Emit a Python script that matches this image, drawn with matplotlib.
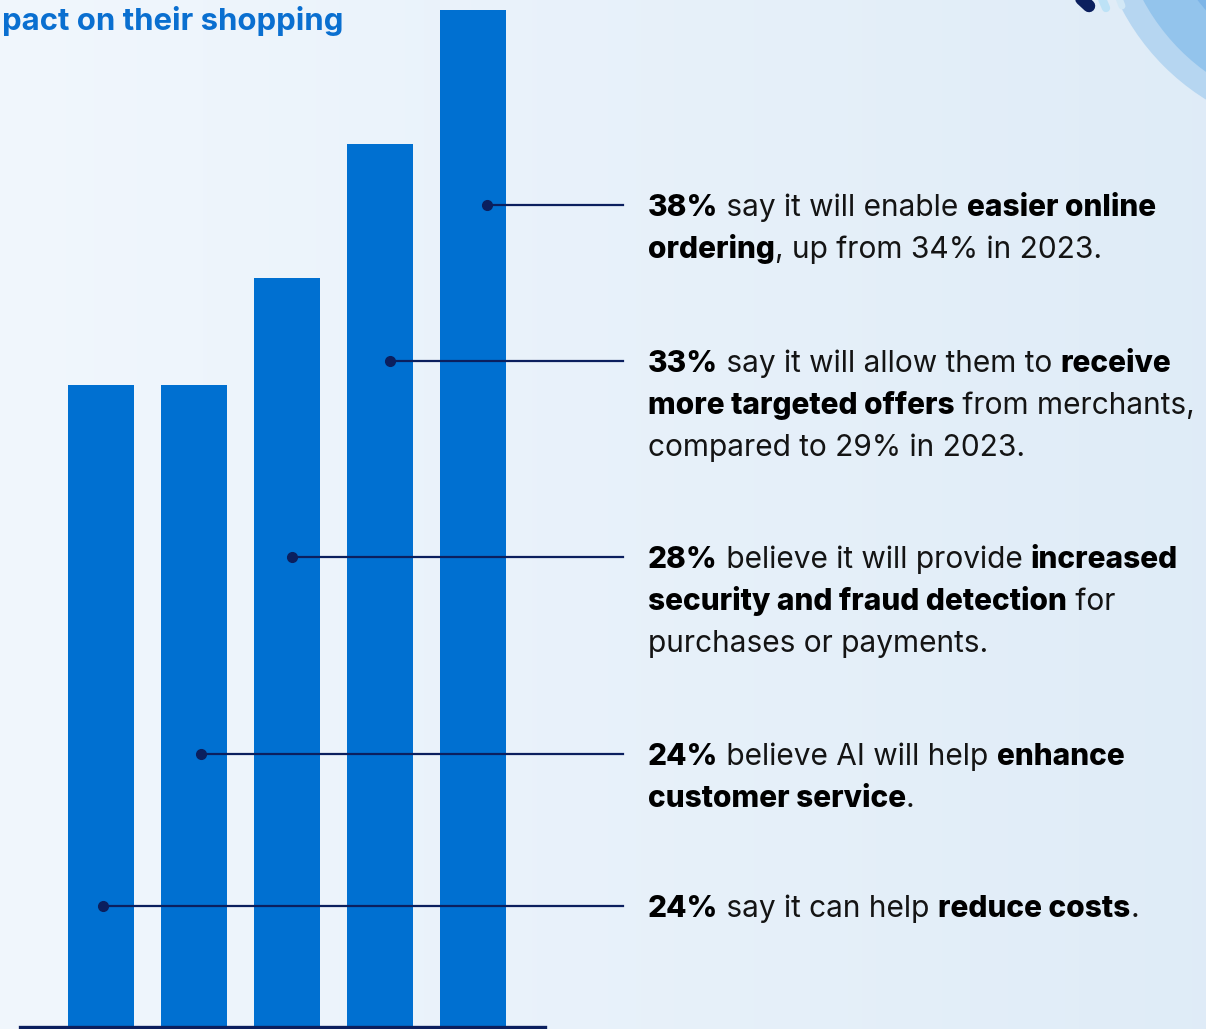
import numpy as np
import matplotlib.pyplot as plt
from matplotlib.patches import Circle
from matplotlib.transforms import IdentityTransform

# share of shoppers naming each AI benefit (%)
benefits = ['Reduce costs', 'Enhance customer service', 'Security and fraud detection',
            'Targeted offers', 'Easier online ordering']
shares = [24, 24, 28, 33, 38]

# callout copy, one block per bar (top block belongs to the tallest bar)
callouts = [
    [[('24%', True), (' say it can help ', False), ('reduce costs', True), ('.', False)]],
    [[('24%', True), (' believe AI will help ', False), ('enhance', True)],
     [('customer service', True), ('.', False)]],
    [[('28%', True), (' believe it will provide ', False), ('increased', True)],
     [('security and fraud detection', True), (' for', False)],
     [('purchases or payments.', False)]],
    [[('33%', True), (' say it will allow them to ', False), ('receive', True)],
     [('more targeted offers', True), (' from merchants,', False)],
     [('compared to 29% in 2023.', False)]],
    [[('38%', True), (' say it will enable ', False), ('easier online', True)],
     [('ordering', True), (', up from 34% in 2023.', False)]],
]
callout_y = [4.52, 10.2, 17.57, 24.9, 30.73]      # leader line heights
dot_shift = [0.02, 0.075, 0.05, 0.11, 0.15]       # dot offset from bar centre

BLUE = '#0070d1'
NAVY = '#0b1f5e'
INK = '#141414'
FONT = 'Inter'

W, H = 1206, 1029
fig = plt.figure(figsize=(W / 100, H / 100), dpi=100)

# background gradient + decorative rings, in pixel coordinates
bg = fig.add_axes([0, 0, 1, 1])
grad = np.linspace(0, 1, 256)
left = np.array([0.945, 0.968, 0.992])
right = np.array([0.875, 0.925, 0.970])
img = left[None, :] * (1 - grad[:, None]) + right[None, :] * grad[:, None]
bg.imshow(img[None, :, :], extent=[0, W, H, 0], aspect='auto')
for r, c in [(235, '#b6d6f1'), (212, '#93c4ec'), (166, '#7db5e7')]:
    bg.add_patch(Circle((1330, -100), r, color=c, lw=0))
bg.plot([1050, 1089], [-30, 6], color=NAVY, lw=9, solid_capstyle='round')
bg.plot([1094, 1106], [-20, 8], color='#bde2f6', lw=6, solid_capstyle='round')
bg.plot([1112, 1122], [-20, 6], color='#d2e8f6', lw=5, solid_capstyle='round')
bg.set_xlim(0, W)
bg.set_ylim(H, 0)
bg.axis('off')

fig.text(2 / W, 1 - 21 / H, 'pact on their shopping', color='#0a6fd0',
         fontsize=22.4, fontweight='bold', family=FONT, va='center')

# bars
ax = fig.add_axes([20 / W, 2 / H, 525 / W, 1027 / H])
ax.patch.set_alpha(0)
x = np.arange(len(shares))
ax.bar(x, shares, width=0.71, color=BLUE, zorder=2)
ax.set_xlim(-0.871, 4.774)
ax.set_ylim(0, 38.39)
for s in ['top', 'right', 'left']:
    ax.spines[s].set_visible(False)
ax.spines['bottom'].set_color(NAVY)
ax.spines['bottom'].set_linewidth(2.4)
ax.set_xticks([])
ax.set_yticks([])

LINE_END = 5.61
TEXT_X = 5.88
FS = 21.5
BOLD = 800
renderer = fig.canvas.get_renderer()


def seg_width(txt, bold):
    kw = dict(fontsize=FS, family=FONT, fontweight=BOLD if bold else 'normal')
    a = fig.text(0, 0, '|' + txt + '|', **kw)
    b = fig.text(0, 0, '||', **kw)
    w = a.get_window_extent(renderer).width - b.get_window_extent(renderer).width
    a.remove()
    b.remove()
    return w


for i, (yv, block) in enumerate(zip(callout_y, callouts)):
    xd = x[i] + dot_shift[i]
    ax.plot([xd, LINE_END], [yv, yv], color=NAVY, lw=1.6, clip_on=False, zorder=3)
    ax.plot(xd, yv, 'o', color=NAVY, ms=7, clip_on=False, zorder=4)
    x0, y0 = ax.transData.transform((TEXT_X, yv))
    base = y0 - 11
    for line in block:
        cx = x0
        for txt, bold in line:
            fig.text(cx, base, txt, transform=IdentityTransform(), fontsize=FS,
                     family=FONT, fontweight=BOLD if bold else 'normal',
                     color='black' if bold else INK, va='baseline')
            cx += seg_width(txt, bold)
        base -= 42

fig.savefig('out.png', dpi=100)
